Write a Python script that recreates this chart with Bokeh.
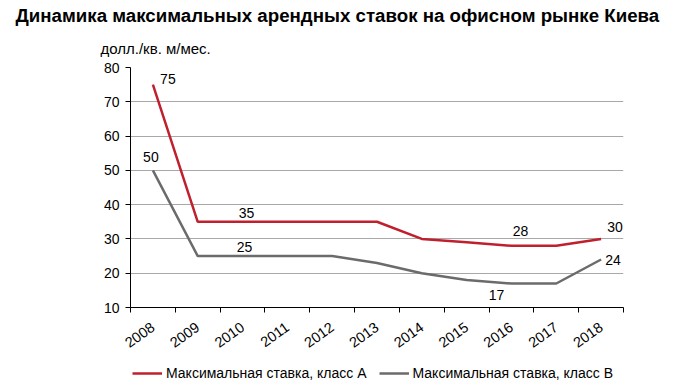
from bokeh.plotting import figure
from bokeh.layouts import column
from bokeh.models import (FixedTicker, Title, Legend, LegendItem, ColumnDataSource, Range1d)
from bokeh.core.properties import value
from bokeh.embed import file_html
from bokeh.resources import INLINE

# ---- data ----
years = ["2008", "2009", "2010", "2011", "2012", "2013", "2014", "2015", "2016", "2017", "2018"]
class_a = [75, 35, 35, 35, 35, 35, 30, 29, 28, 28, 30]
class_b = [50, 25, 25, 25, 25, 23, 20, 18, 17, 17, 24]
y_ticks = [10, 20, 30, 40, 50, 60, 70, 80]
title_text = "Динамика максимальных арендных ставок на офисном рынке Киева"
unit_text = "долл./кв. м/мес."
series_names = ["Максимальная ставка, класс А", "Максимальная ставка, класс В"]
labeled_a = ["2008", "2010", "2016", "2018"]
labeled_b = ["2008", "2010", "2016", "2018"]

# ---- styling ----
FONT = "Liberation Sans"
RED = "#c0202e"
GRAY = "#6b6b6b"
W = 670
MAIN_H = 361
LEG_H = 24
off_a = [(15, -6), (4, -9), (9, -15), (14, -12)]
off_b = [(-2, -13), (2, -9), (-15, 11), (12, 0)]

n = len(years)
xc = [i + 0.5 for i in range(n)]

# ---- main chart ----
p = figure(width=W, height=MAIN_H, output_backend="svg", toolbar_location=None,
           x_range=Range1d(0, n), y_range=Range1d(y_ticks[0], y_ticks[-1]),
           min_border_left=130, min_border_right=47, min_border_top=66, min_border_bottom=54)
p.outline_line_color = None
p.background_fill_color = "white"
p.border_fill_color = "white"

p.title.text = title_text
p.title.align = "left"
p.title.offset = -115
p.title.text_font = FONT
p.title.text_font_size = "18.7px"
p.title.text_font_style = "bold"
p.title.text_color = "black"
p.title.standoff = 4

p.add_layout(Title(text=unit_text, align="left", offset=-30, text_font=FONT,
                   text_font_size="15px", text_font_style="normal", text_color="black",
                   standoff=21), "above")

p.xaxis.ticker = FixedTicker(ticks=xc, minor_ticks=list(range(n + 1)))
p.xaxis.major_label_overrides = {x: y for x, y in zip(xc, years)}
p.xaxis.major_tick_line_color = None
p.xaxis.minor_tick_in = 0
p.xaxis.minor_tick_out = 5
p.xaxis.minor_tick_line_color = "black"
p.xaxis.axis_line_color = "black"
p.xaxis.major_label_orientation = 0.62
p.xaxis.major_label_text_font = FONT
p.xaxis.major_label_text_font_size = "14.5px"
p.xaxis.major_label_text_color = "black"
p.xaxis.major_label_standoff = 12

p.yaxis.ticker = FixedTicker(ticks=y_ticks)
p.yaxis.minor_tick_line_color = None
p.yaxis.major_tick_in = 0
p.yaxis.major_tick_out = 5
p.yaxis.major_tick_line_color = "black"
p.yaxis.axis_line_color = "black"
p.yaxis.major_label_text_font = FONT
p.yaxis.major_label_text_font_size = "14px"
p.yaxis.major_label_text_color = "black"
p.yaxis.major_label_standoff = 6

p.xgrid.grid_line_color = None
p.ygrid.grid_line_color = "#a8a8a8"
p.ygrid.grid_line_width = 1.2

p.line(xc, class_a, line_color=RED, line_width=2.5)
p.line(xc, class_b, line_color=GRAY, line_width=2.5)


def add_labels(vals, which, offs):
    idx = [years.index(y) for y in which]
    src = ColumnDataSource(dict(
        x=[xc[i] for i in idx], y=[vals[i] for i in idx],
        t=[str(vals[i]) for i in idx],
        dx=[o[0] for o in offs], dy=[o[1] for o in offs]))
    p.text(x="x", y="y", text="t", x_offset="dx", y_offset="dy", source=src,
           text_font=value(FONT), text_font_size="14px", text_color="black",
           text_align="center", text_baseline="middle")


add_labels(class_a, labeled_a, off_a)
add_labels(class_b, labeled_b, off_b)

# ---- legend strip ----
leg = figure(width=W, height=LEG_H, output_backend="svg", toolbar_location=None,
             x_range=Range1d(-20, -19), y_range=Range1d(-20, -19), min_border=0,
             x_axis_location=None, y_axis_location=None)
leg.outline_line_color = None
leg.background_fill_color = "white"
leg.border_fill_color = "white"
leg.grid.visible = False
la = leg.line(xc, class_a, line_color=RED, line_width=2.5)
lb = leg.line(xc, class_b, line_color=GRAY, line_width=2.5)
legend = Legend(items=[LegendItem(label=series_names[0], renderers=[la]),
                       LegendItem(label=series_names[1], renderers=[lb])],
                orientation="horizontal", location=(2, 2),
                label_text_font=FONT, label_text_font_size="14px",
                label_text_color="black", glyph_width=30,
                label_standoff=4, spacing=12, padding=0, margin=0,
                border_line_color=None, background_fill_alpha=0)
leg.add_layout(legend, "center")

layout = column(p, leg, spacing=0)

open("out.html", "w").write(file_html(layout, INLINE))
